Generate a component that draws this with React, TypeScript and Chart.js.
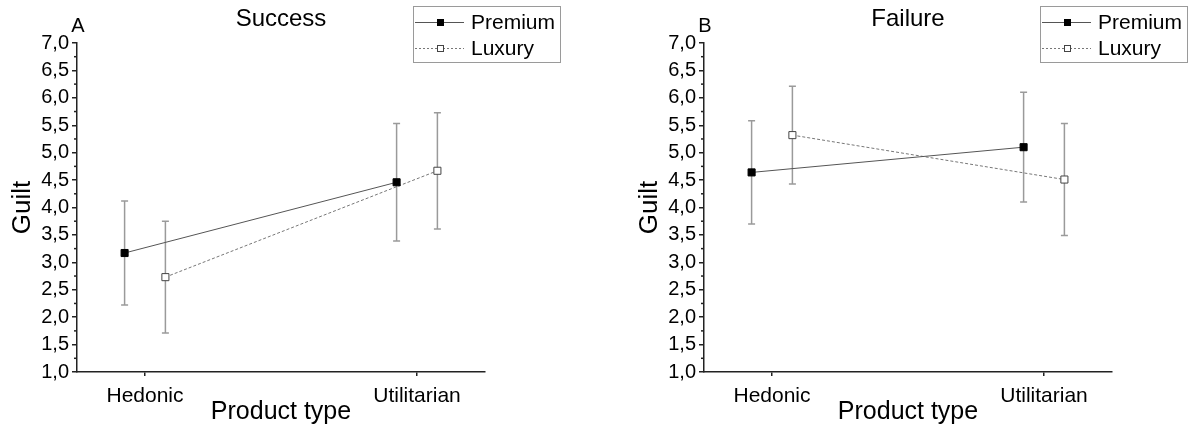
import React, { useEffect, useRef } from 'react';
import { Chart, registerables } from 'chart.js';

Chart.register(...registerables);

// ---- data ----
const categories = ['Hedonic', 'Utilitarian'];
const seriesNames = ['Premium', 'Luxury'];
const yMin = 1;
const yMax = 7;
const yStep = 0.5;

const successPremium = [3.17, 4.46];
const successPremiumErr = [0.95, 1.07];
const successLuxury = [2.73, 4.67];
const successLuxuryErr = [1.02, 1.06];

const failurePremium = [4.64, 5.1];
const failurePremiumErr = [0.94, 1.0];
const failureLuxury = [5.32, 4.51];
const failureLuxuryErr = [0.89, 1.02];

// ---- style / layout ----
const FONT = '"Liberation Sans", Arial, Helvetica, sans-serif';
const DODGE = 0.075;
const CANVAS_W = 566;
const CANVAS_H = 430;
const PANEL_OFFSET = 627;
const LINE_PREMIUM = '#555555';
const LINE_LUXURY = '#777777';
const ERR_COLOR = '#9a9a9a';
const AXIS_COLOR = '#222222';

Chart.defaults.font.family = FONT;

const errorBarPlugin = {
  id: 'errorBars',
  beforeDatasetsDraw(chart: any) {
    const { ctx } = chart;
    const xs = chart.scales.x;
    const ys = chart.scales.y;
    ctx.save();
    ctx.strokeStyle = ERR_COLOR;
    ctx.lineWidth = 1.5;
    chart.data.datasets.forEach((ds: any) => {
      ds.data.forEach((pt: any, j: number) => {
        const e = ds.errors[j];
        const x = xs.getPixelForValue(pt.x);
        const yt = ys.getPixelForValue(pt.y + e);
        const yb = ys.getPixelForValue(pt.y - e);
        ctx.beginPath();
        ctx.moveTo(x, yt);
        ctx.lineTo(x, yb);
        ctx.moveTo(x - 3.5, yt);
        ctx.lineTo(x + 3.5, yt);
        ctx.moveTo(x - 3.5, yb);
        ctx.lineTo(x + 3.5, yb);
        ctx.stroke();
      });
    });
    ctx.restore();
  },
};

const decorPlugin = {
  id: 'decor',
  afterDraw(chart: any) {
    const { ctx, chartArea } = chart;
    const ys = chart.scales.y;
    const opts = chart.options.plugins.decor;
    ctx.save();
    // minor ticks
    ctx.strokeStyle = AXIS_COLOR;
    ctx.lineWidth = 1.5;
    for (let v = yMin + yStep / 2; v < yMax; v += yStep) {
      const y = ys.getPixelForValue(v);
      ctx.beginPath();
      ctx.moveTo(chartArea.left - 3, y);
      ctx.lineTo(chartArea.left, y);
      ctx.stroke();
    }
    // panel title + letter
    ctx.fillStyle = '#000';
    ctx.textBaseline = 'middle';
    ctx.textAlign = 'center';
    ctx.font = `24px ${FONT}`;
    ctx.fillText(opts.title, (chartArea.left + chartArea.right) / 2, 19);
    ctx.font = `20px ${FONT}`;
    ctx.fillText(opts.letter, chartArea.left + 1, 26);

    // legend
    const bx = 413.5, by = 6.5, bw = 147, bh = 56;
    ctx.strokeStyle = '#9a9a9a';
    ctx.lineWidth = 1;
    ctx.strokeRect(bx, by, bw, bh);
    const rows = [
      { name: seriesNames[0], y: 22, color: LINE_PREMIUM, dash: [], fill: '#000', stroke: '#000' },
      { name: seriesNames[1], y: 48, color: LINE_LUXURY, dash: [2, 2], fill: '#fff', stroke: '#444' },
    ];
    rows.forEach((r) => {
      ctx.strokeStyle = r.color;
      ctx.lineWidth = 1;
      ctx.setLineDash(r.dash);
      ctx.beginPath();
      ctx.moveTo(415, r.y + 0.5);
      ctx.lineTo(464, r.y + 0.5);
      ctx.stroke();
      ctx.setLineDash([]);
      ctx.fillStyle = r.fill;
      ctx.fillRect(437, r.y - 3, 7, 7);
      ctx.strokeStyle = r.stroke;
      ctx.strokeRect(437.5, r.y - 2.5, 6, 6);
      ctx.fillStyle = '#000';
      ctx.textAlign = 'left';
      ctx.font = `21px ${FONT}`;
      ctx.fillText(r.name, 471, r.y + 1);
    });
    ctx.restore();
  },
};

type PanelProps = {
  title: string;
  letter: string;
  premium: number[];
  premiumErr: number[];
  luxury: number[];
  luxuryErr: number[];
  left: number;
};

function Panel(props: PanelProps) {
  const ref = useRef<HTMLCanvasElement | null>(null);
  useEffect(() => {
    if (!ref.current) return;
    const mk = (vals: number[], sign: number) =>
      vals.map((v, i) => ({ x: i + 1 + sign * DODGE, y: v }));
    const chart = new Chart(ref.current, {
      type: 'scatter',
      data: {
        datasets: [
          {
            label: seriesNames[0],
            data: mk(props.premium, -1),
            errors: props.premiumErr,
            showLine: true,
            borderColor: LINE_PREMIUM,
            borderWidth: 1,
            pointStyle: 'rect',
            pointRadius: 5,
            pointBackgroundColor: '#000',
            pointBorderColor: '#000',
            pointBorderWidth: 1,
          } as any,
          {
            label: seriesNames[1],
            data: mk(props.luxury, 1),
            errors: props.luxuryErr,
            showLine: true,
            borderColor: LINE_LUXURY,
            borderWidth: 1,
            borderDash: [3, 2],
            pointStyle: 'rect',
            pointRadius: 5,
            pointBackgroundColor: '#fff',
            pointBorderColor: '#444',
            pointBorderWidth: 1,
          } as any,
        ],
      },
      options: {
        animation: false,
        responsive: false,
        events: [],
        layout: { padding: { left: 0, right: 81, top: 43, bottom: 0 } },
        plugins: {
          legend: { display: false },
          tooltip: { enabled: false },
          title: { display: false },
          decor: { title: props.title, letter: props.letter },
        } as any,
        scales: {
          x: {
            type: 'linear',
            min: 0.75,
            max: 2.25,
            afterBuildTicks: (s: any) => {
              s.ticks = categories.map((_, i) => ({ value: i + 1 }));
            },
            afterFit: (s: any) => {
              s.height = 58;
            },
            ticks: {
              autoSkip: false,
              maxRotation: 0,
              padding: 8,
              color: '#000',
              font: { size: 21 },
              callback: (v: any) => categories[Math.round(v) - 1] ?? '',
            },
            grid: { drawOnChartArea: false, tickLength: 4, color: AXIS_COLOR, lineWidth: 1.5 },
            border: { color: AXIS_COLOR, width: 1.5 },
            title: {
              display: true,
              text: 'Product type',
              color: '#000',
              font: { size: 25 },
              padding: { top: 0, bottom: 3 },
            },
          },
          y: {
            type: 'linear',
            min: yMin,
            max: yMax,
            afterFit: (s: any) => {
              s.width = 77;
            },
            ticks: {
              stepSize: yStep,
              autoSkip: false,
              padding: 3,
              color: '#000',
              font: { size: 20 },
              callback: (v: any) => Number(v).toFixed(1).replace('.', ','),
            },
            grid: { drawOnChartArea: false, tickLength: 5, color: AXIS_COLOR, lineWidth: 1.5 },
            border: { color: AXIS_COLOR, width: 1.5 },
            title: {
              display: true,
              text: 'Guilt',
              color: '#000',
              font: { size: 26 },
              padding: { top: 7, bottom: 0 },
            },
          },
        },
      },
      plugins: [errorBarPlugin, decorPlugin],
    } as any);
    return () => chart.destroy();
  }, []);
  return (
    <div style={{ position: 'absolute', left: props.left, top: 0, width: CANVAS_W, height: CANVAS_H }}>
      <canvas ref={ref} width={CANVAS_W} height={CANVAS_H} style={{ display: 'block' }} />
    </div>
  );
}

export default function App() {
  return (
    <div style={{ position: 'fixed', left: 0, top: 0, width: 1193, height: 430, background: '#fff' }}>
      <Panel
        title="Success"
        letter="A"
        premium={successPremium}
        premiumErr={successPremiumErr}
        luxury={successLuxury}
        luxuryErr={successLuxuryErr}
        left={0}
      />
      <Panel
        title="Failure"
        letter="B"
        premium={failurePremium}
        premiumErr={failurePremiumErr}
        luxury={failureLuxury}
        luxuryErr={failureLuxuryErr}
        left={PANEL_OFFSET}
      />
    </div>
  );
}
